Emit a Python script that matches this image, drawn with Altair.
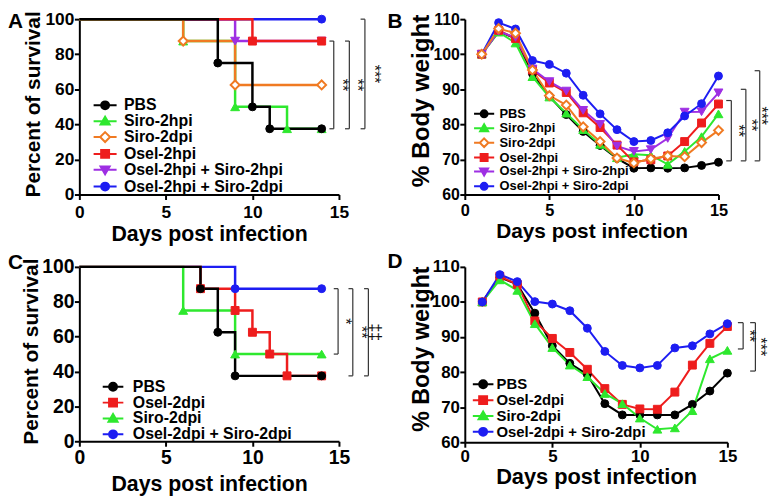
import altair as alt
import pandas as pd

FONT = "Liberation Sans"

BLACK = "#000000"
GREEN = "#2ee82e"
ORANGE = "#f07a22"
RED = "#ee1d1d"
PURPLE = "#9e2fe3"
BLUE = "#1d1df2"

# ---------------- Panel A : survival ----------------
A_SERIES = ["PBS", "Siro-2hpi", "Siro-2dpi", "Osel-2hpi",
            "Osel-2hpi + Siro-2hpi", "Osel-2hpi + Siro-2dpi"]
A_COLORS = [BLACK, GREEN, ORANGE, RED, PURPLE, BLUE]
A_SHAPES = ["circle", "triangle-up", "diamond", "square", "triangle-down", "circle"]
A_OPEN = [False, False, True, False, False, False]
A_DAYS = [[0, 8, 10, 11, 14],
          [0, 6, 9, 12, 14],
          [0, 6, 9, 14],
          [0, 10, 14],
          [0, 9, 14],
          [0, 14]]
A_SURV = [[100, 75, 50, 37.5, 37.5],
          [100, 87.5, 50, 37.5, 37.5],
          [100, 87.5, 62.5, 62.5],
          [100, 87.5, 87.5],
          [100, 87.5, 87.5],
          [100, 100]]
A_ORDER = [5, 4, 3, 1, 2, 0]
A_BRK_X = [14.7, 15.6, 16.5]
A_BRK_TOP = [87.5, 87.5, 100]
A_BRK_BOT = [37.5, 37.5, 37.5]
A_BRK_TXT = ["**", "**", "***"]
A_TXT_X = [15.2, 16.05, 17.0]

# ---------------- Panel B : body weight ----------------
B_DAYS = list(range(1, 16))
B_WEIGHT = [
    [100, 106.5, 104.5, 94.5, 88.0, 82.8, 78.0, 74.0, 70.3, 67.5, 67.6, 67.5, 67.6, 68.3, 69.2],
    [100, 106.3, 103.2, 93.6, 87.8, 83.2, 78.5, 74.3, 70.5, 71.5, 71.2, 68.6, 72.3, 76.5, 83.0],
    [100, 107.3, 106.0, 95.5, 88.2, 85.5, 79.3, 75.1, 70.4, 69.0, 70.2, 71.0, 70.8, 74.8, 78.3],
    [100, 106.8, 104.5, 95.5, 91.8, 89.1, 83.3, 79.1, 74.1, 69.3, 69.9, 71.0, 75.1, 80.4, 85.8],
    [100, 106.5, 104.8, 95.8, 92.2, 89.5, 84.0, 80.0, 73.8, 72.3, 72.8, 76.0, 83.5, 83.6, 89.0],
    [100, 109.0, 107.2, 98.2, 97.1, 94.6, 88.3, 83.0, 78.5, 75.1, 75.4, 77.6, 82.4, 85.9, 93.8],
]
B_ORDER = [0, 1, 3, 4, 5, 2]
B_BRK_X = [15.76, 16.62, 17.44]
B_BRK_TOP = [86.8, 90.0, 95.3]
B_BRK_BOT = [69.6, 69.6, 69.6]
B_BRK_TXT = ["**", "**", "***"]
B_TXT_X = [16.17, 16.95, 17.5]

# ---------------- Panel C : survival ----------------
C_SERIES = ["PBS", "Osel-2dpi", "Siro-2dpi", "Osel-2dpi + Siro-2dpi"]
C_COLORS = [BLACK, RED, GREEN, BLUE]
C_SHAPES = ["circle", "square", "triangle-up", "circle"]
C_OPEN = [False, False, False, False]
C_DAYS = [[0, 7, 8, 9, 14],
          [0, 7, 9, 10, 11, 12, 14],
          [0, 6, 9, 14],
          [0, 9, 14]]
C_SURV = [[100, 87.5, 62.5, 37.5, 37.5],
          [100, 87.5, 75, 62.5, 50, 37.5, 37.5],
          [100, 75, 50, 50],
          [100, 87.5, 87.5]]
C_ORDER = [3, 2, 1, 0]
C_BRK_X = [14.95, 15.8, 16.7]
C_BRK_TOP = [87.5, 87.5, 87.5]
C_BRK_BOT = [50, 37.5, 37.5]
C_BRK_TXT = ["*", "**", "‡‡"]
C_TXT_X = [15.35, 16.25, 17.1]

# ---------------- Panel D : body weight ----------------
D_DAYS = list(range(1, 16))
D_WEIGHT = [
    [100, 107.0, 105.0, 96.8, 87.5, 82.5, 79.3, 71.0, 67.8, 67.8, 67.8, 67.8, 70.8, 74.6, 79.7],
    [100, 107.3, 105.0, 94.6, 89.6, 85.6, 80.8, 75.3, 70.8, 69.5, 69.4, 74.3, 82.0, 88.2, 93.0],
    [100, 106.3, 103.3, 93.8, 87.0, 82.0, 78.7, 73.9, 71.0, 66.9, 63.7, 64.1, 69.0, 83.8, 86.2],
    [100, 107.8, 105.8, 100.1, 99.4, 97.5, 92.5, 85.9, 81.9, 81.2, 81.9, 86.9, 87.5, 90.9, 93.8],
]
D_ORDER = [0, 1, 2, 3]
D_BRK_X = [15.9, 16.6]
D_BRK_TOP = [94.1, 94.1]
D_BRK_BOT = [86.6, 80.3]
D_BRK_TXT = ["**", "***"]
D_TXT_X = [16.24, 16.85]

X_TICKS = [0, 5, 10, 15]
SURV_TICKS = [0, 20, 40, 60, 80, 100]
WEIGHT_TICKS = [60, 70, 80, 90, 100, 110]

BODIES = {
    "circle": "M1,0A1,1,0,1,1,-1,0A1,1,0,1,1,1,0Z",
    "square": "M-1,-1H1V1H-1Z",
    "triangle-up": "M0,-1.15L1.15,0.85L-1.15,0.85Z",
    "triangle-down": "M0,1.15L1.15,-0.85L-1.15,-0.85Z",
    "diamond": "M0,-1.25L1.25,0L0,1.25L-1.25,0Z",
}


def legend_path(shape, is_open, half):
    if is_open:
        stub = f"M{-half},0H-1.25M1.25,0H{half}"
    else:
        stub = f"M{-half},0H{half}"
    return stub + BODIES[shape]


def panel(series, colors, shapes, opens, days, values, order, step, cfg):
    xs = alt.Scale(domain=[0, 15], nice=False, zero=False)
    ys = alt.Scale(domain=cfg["ydomain"], nice=False, zero=False)
    xaxis = alt.Axis(title="Days post infection", values=X_TICKS, grid=False,
                     domainColor="black", domainWidth=2, tickColor="black", tickWidth=2,
                     tickSize=5, labelFont=FONT, labelFontWeight="bold",
                     labelFontSize=cfg["xlab_fs"], labelColor="black",
                     labelPadding=cfg["xlab_pad"], labelFlush=False,
                     titleFont=FONT, titleFontWeight="bold", titleFontSize=cfg["xt_fs"],
                     titleColor="black", titlePadding=cfg["xt_pad"])
    yaxis = alt.Axis(title=cfg["ytitle"], values=cfg["yticks"], grid=False,
                     domainColor="black", domainWidth=2, tickColor="black", tickWidth=2,
                     tickSize=5, labelFont=FONT, labelFontWeight="bold",
                     labelFontSize=cfg["ylab_fs"], labelColor="black",
                     labelPadding=0.5, labelFlush=False,
                     titleFont=FONT, titleFontWeight="bold", titleFontSize=cfg["yt_fs"],
                     titleColor="black", titlePadding=cfg["yt_pad"],
                     titleY=cfg["h"] / 2 + cfg["yt_shift"])
    X = lambda f: alt.X(f, type="quantitative", scale=xs, axis=xaxis)
    Y = lambda f: alt.Y(f, type="quantitative", scale=ys, axis=yaxis)

    layers = []
    for i in order:
        df = pd.DataFrame({"day": days[i], "value": values[i]})
        line = alt.Chart(df).mark_line(
            color=colors[i], strokeWidth=cfg["lw"], clip=False,
            interpolate="step-after" if step else "linear",
        ).encode(x=X("day"), y=Y("value"))
        layers.append(line)
    for i in order:
        df = pd.DataFrame({"day": days[i], "value": values[i]})
        pts = alt.Chart(df)
        if step:
            pts = pts.transform_filter("datum.day > 0")
        size = cfg["msize"] * (1.25 if shapes[i] in ("triangle-up", "triangle-down", "diamond") else 1.0)
        pts = pts.mark_point(
            shape=shapes[i], size=size, filled=True, opacity=1,
            fill="white" if opens[i] else colors[i], stroke=colors[i],
            strokeWidth=2 if opens[i] else 1, clip=False,
        ).encode(x=X("day"), y=Y("value"))
        layers.append(pts)

    # significance brackets
    bdf = pd.DataFrame({
        "bx": cfg["brk_x"], "btop": cfg["brk_top"], "bbot": cfg["brk_bot"],
        "txt": cfg["brk_txt"], "tx": cfg["txt_x"],
    })
    bdf["bleft"] = bdf["bx"] - cfg["tick_len"]
    bdf["tmid"] = (bdf["btop"] + bdf["bbot"]) / 2
    base = alt.Chart(bdf)
    layers.append(base.mark_rule(color=cfg["brk_color"], strokeWidth=1.2, clip=False)
                  .encode(x=X("bx"), y=Y("btop"), y2="bbot"))
    layers.append(base.mark_rule(color=cfg["brk_color"], strokeWidth=1.2, clip=False)
                  .encode(x=X("bleft"), x2="bx", y=Y("btop")))
    layers.append(base.mark_rule(color=cfg["brk_color"], strokeWidth=1.2, clip=False)
                  .encode(x=X("bleft"), x2="bx", y=Y("bbot")))
    layers.append(base.mark_text(angle=90, font=FONT, fontSize=cfg["star_fs"], align="center",
                                 baseline="middle", color="#111111", clip=False)
                  .encode(x=X("tx"), y=Y("tmid"), text="txt:N"))

    # legend (built from the series names through the scales)
    paths = [legend_path(s, o, cfg["stub"]) for s, o in zip(shapes, opens)]
    fills = ["white" if o else c for c, o in zip(colors, opens)]
    leg = alt.Legend(title=None, orient="none", legendX=cfg["legx"], legendY=cfg["legy"],
                     symbolSize=cfg["lsize"], symbolStrokeWidth=2,
                     labelFont=FONT, labelFontWeight="bold", labelFontSize=cfg["leg_fs"],
                     labelColor="black", labelOffset=cfg["leg_off"], rowPadding=cfg["leg_rp"],
                     labelLimit=400, padding=0)
    ldf = pd.DataFrame({"series": series, "day": [0] * len(series), "value": [cfg["ydomain"][0]] * len(series)})
    legend_layer = alt.Chart(ldf).transform_filter("datum.day < -100").mark_point(
        filled=True, size=cfg["lsize"], strokeWidth=2, opacity=1,
    ).encode(
        x=X("day"), y=Y("value"),
        shape=alt.Shape("series:N", scale=alt.Scale(domain=series, range=paths), legend=leg),
        fill=alt.Fill("series:N", scale=alt.Scale(domain=series, range=fills), legend=leg),
        stroke=alt.Stroke("series:N", scale=alt.Scale(domain=series, range=colors), legend=leg),
    )
    layers.append(legend_layer)

    # panel letter
    letter = alt.Chart(pd.DataFrame({"t": [cfg["letter"]]})).mark_text(
        align="left", baseline="top", font=FONT, fontSize=21, fontWeight="bold",
        color="black", clip=False,
    ).encode(x=alt.value(cfg["let_x"]), y=alt.value(cfg["let_y"]), text="t:N")
    layers.append(letter)

    return alt.layer(*layers).properties(width=cfg["w"], height=cfg["h"])


common = dict(xlab_fs=17.5, ylab_fs=17.5, xlab_pad=4.4, xt_fs=21.5, yt_fs=21, xt_pad=2.2, yt_pad=2,
              yt_shift=-3, brk_color="#333333", star_fs=16)

cfgA = dict(common, w=262, h=177, ydomain=[0, 100], yticks=SURV_TICKS, ytitle="Percent of survival",
            lw=2.5, msize=64, lsize=64, stub=2.9, legx=18, legy=79, leg_fs=16, leg_off=11, leg_rp=-2,
            brk_x=A_BRK_X, brk_top=A_BRK_TOP, brk_bot=A_BRK_BOT, brk_txt=A_BRK_TXT, txt_x=A_TXT_X,
            tick_len=0.25, letter="A", let_x=-72, let_y=-8.5)
cfgB = dict(common, w=256, h=177, ydomain=[60, 110], yticks=WEIGHT_TICKS, ytitle="% Body weight",
            lw=2, msize=64, lsize=49, stub=2.9, legx=13, legy=89, leg_fs=13, leg_off=9, leg_rp=-1.4,
            brk_x=B_BRK_X, brk_top=B_BRK_TOP, brk_bot=B_BRK_BOT, brk_txt=B_BRK_TXT, txt_x=B_TXT_X,
            tick_len=0.3, letter="B", let_x=-78, let_y=-8.5, yt_fs=24.5, yt_pad=-1, yt_shift=-6.5,
            xt_fs=21, xlab_fs=16.5, ylab_fs=16, xlab_pad=3.5, xt_pad=1.7)
cfgC = dict(common, w=262, h=176, ydomain=[0, 100], yticks=SURV_TICKS, ytitle="Percent of survival",
            lw=2.5, msize=64, lsize=64, stub=2.6, legx=26, legy=113, leg_fs=16, leg_off=12, leg_rp=-3.2,
            brk_x=C_BRK_X, brk_top=C_BRK_TOP, brk_bot=C_BRK_BOT, brk_txt=C_BRK_TXT, txt_x=C_TXT_X,
            tick_len=0.25, letter="C", let_x=-72, let_y=-15, xlab_fs=19.5, ylab_fs=19.5,
            yt_pad=0, xlab_pad=2.6, xt_pad=6.5)
cfgD = dict(common, w=265, h=177, ydomain=[60, 110], yticks=WEIGHT_TICKS, ytitle="% Body weight",
            lw=2, msize=64, lsize=64, stub=2.6, legx=11, legy=111, leg_fs=15, leg_off=6, leg_rp=-3.2,
            brk_x=D_BRK_X, brk_top=D_BRK_TOP, brk_bot=D_BRK_BOT, brk_txt=D_BRK_TXT, txt_x=D_TXT_X,
            tick_len=0.3, letter="D", let_x=-78, let_y=-16, yt_fs=23.5, yt_pad=-1.9, yt_shift=-6,
            xt_fs=22, xlab_fs=17, ylab_fs=17, xlab_pad=1.7, xt_pad=1.5)

pA = panel(A_SERIES, A_COLORS, A_SHAPES, A_OPEN, A_DAYS, A_SURV, A_ORDER, True, cfgA)
pB = panel(A_SERIES, A_COLORS, A_SHAPES, A_OPEN, [B_DAYS] * 6, B_WEIGHT, B_ORDER, False, cfgB)
pC = panel(C_SERIES, C_COLORS, C_SHAPES, C_OPEN, C_DAYS, C_SURV, C_ORDER, True, cfgC)
pD = panel(C_SERIES, C_COLORS, C_SHAPES, C_OPEN, [D_DAYS] * 4, D_WEIGHT, D_ORDER, False, cfgD)

chart = alt.concat(pA, pB, pC, pD, columns=2, spacing={"row": 73, "column": 127}).properties(
    bounds="flush",
    padding={"left": 0, "top": 0, "right": 0, "bottom": 0},
).resolve_scale(
    shape="independent", fill="independent", stroke="independent"
).resolve_legend(
    shape="independent", fill="independent", stroke="independent"
).configure_view(stroke=None)

chart.save("out.html", embed_options={"renderer": "svg", "actions": False})
